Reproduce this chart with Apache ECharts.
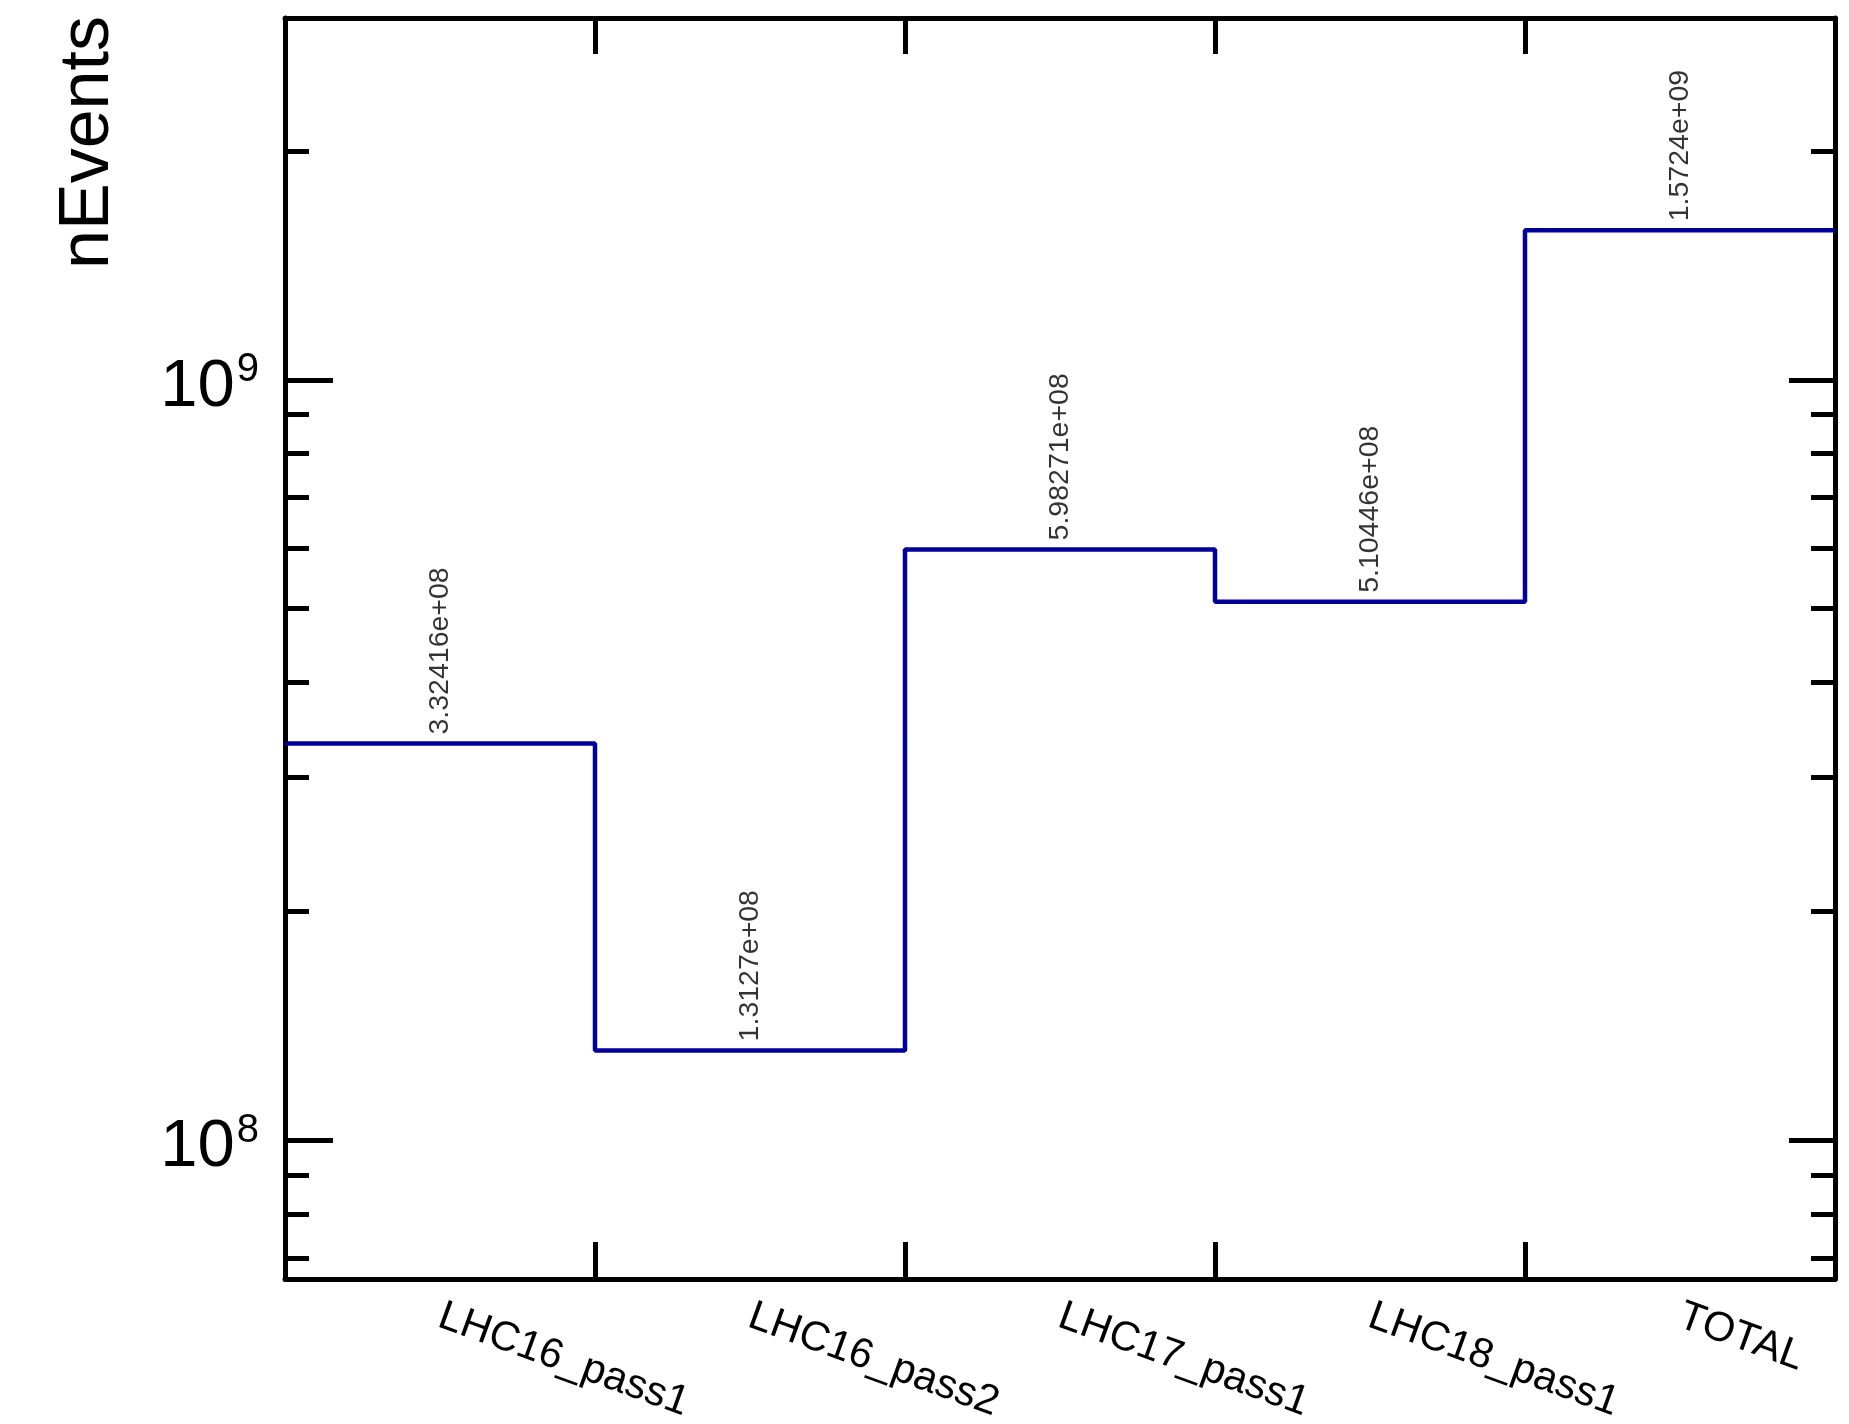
<!DOCTYPE html>
<html>
<head>
<meta charset="utf-8">
<script src="https://cdn.jsdelivr.net/npm/echarts@6/dist/echarts.min.js"></script>
<style>
  html, body { margin: 0; padding: 0; background: #ffffff; }
  #chart { width: 1849px; height: 1424px; }
</style>
</head>
<body>
<div id="chart"></div>
<script>
// Event counts per reconstruction pass
const periods = ['LHC16_pass1', 'LHC16_pass2', 'LHC17_pass1', 'LHC18_pass1', 'TOTAL'];
const nEvents = [3.32416e8, 1.3127e8, 5.98271e8, 5.10446e8, 1.5724e9];

// Log y range and tick positions
const yRange = [6.57e7, 2.99e9];
const majorTicks = [1e8, 1e9];
const minorTicks = [7e7, 8e7, 9e7, 2e8, 3e8, 4e8, 5e8, 6e8, 7e8, 8e8, 9e8, 2e9];

const FONT = '"Liberation Sans", Arial, Helvetica, sans-serif';
const LINE_COLOR = '#000099';

// printf("%g")-style number text
function fmtG(v) {
  const parts = v.toExponential(5).split('e');
  const m = parts[0].replace(/\.?0+$/, '');
  const sign = parts[1][0] === '-' ? '-' : '+';
  let d = parts[1].replace(/^[+-]/, '');
  if (d.length < 2) d = '0' + d;
  return m + 'e' + sign + d;
}

// Histogram outline: bin edges 0..N, last bin closed at the right edge
const stepData = nEvents.map((v, i) => [i, v]).concat([[nEvents.length, nEvents[nEvents.length - 1]]]);

function yAxisDef(pos, ticks, len, withLine, withLabels) {
  return {
    type: 'log',
    logBase: 10,
    position: pos,
    min: yRange[0],
    max: yRange[1],
    axisLine: { show: withLine, lineStyle: { color: '#000', width: 5 } },
    axisTick: {
      show: true, inside: true, length: len, customValues: ticks,
      lineStyle: { color: '#000', width: 5 }
    },
    axisLabel: withLabels ? {
      show: true,
      customValues: majorTicks,
      margin: 26,
      formatter: v => '{b|10}{s|' + Math.round(Math.log10(v)) + '}',
      rich: {
        b: { fontFamily: FONT, fontSize: 67, lineHeight: 67, color: '#000', padding: [15, 0, 0, 0] },
        s: { fontFamily: FONT, fontSize: 40, lineHeight: 40, color: '#000', verticalAlign: 'top', padding: [4, 0, 0, 2] }
      }
    } : { show: false },
    splitLine: { show: false },
    minorTick: { show: false },
    minorSplitLine: { show: false }
  };
}

const chart = echarts.init(document.getElementById('chart'), null, { renderer: 'canvas' });

chart.setOption({
  animation: false,
  backgroundColor: '#ffffff',
  grid: { left: 285, right: 14, top: 18, bottom: 145, containLabel: false, outerBoundsMode: 'none' },
  graphic: [{
    type: 'text',
    x: 89,
    y: 16,
    rotation: Math.PI / 2,
    style: {
      text: 'nEvents',
      fontFamily: FONT,
      fontSize: 70,
      fill: '#000',
      align: 'right',
      verticalAlign: 'middle'
    }
  }],
  xAxis: [
    {
      type: 'category',
      position: 'bottom',
      data: periods,
      boundaryGap: true,
      axisLine: { show: true, lineStyle: { color: '#000', width: 5 } },
      axisTick: { show: true, inside: true, length: 37, interval: 0, lineStyle: { color: '#000', width: 5 } },
      axisLabel: { show: true, interval: 0, rotate: -20, margin: 36, fontFamily: FONT, fontSize: 41.5, color: '#000' },
      splitLine: { show: false }
    },
    {
      type: 'category',
      position: 'top',
      data: periods,
      boundaryGap: true,
      axisLine: { show: true, lineStyle: { color: '#000', width: 5 } },
      axisTick: { show: true, inside: true, length: 36, interval: 0, lineStyle: { color: '#000', width: 5 } },
      axisLabel: { show: false },
      splitLine: { show: false }
    },
    {
      type: 'value',
      min: 0,
      max: periods.length,
      show: false
    }
  ],
  yAxis: [
    yAxisDef('left', majorTicks, 48, true, true),
    yAxisDef('left', minorTicks, 24, false, false),
    yAxisDef('right', majorTicks, 46, true, false),
    yAxisDef('right', minorTicks, 24, false, false)
  ],
  series: [
    {
      type: 'line',
      xAxisIndex: 2,
      yAxisIndex: 0,
      data: stepData,
      step: 'end',
      symbol: 'none',
      lineStyle: { color: LINE_COLOR, width: 4.5 },
      silent: true,
      z: 3
    },
    {
      type: 'scatter',
      xAxisIndex: 0,
      yAxisIndex: 0,
      data: nEvents,
      symbolSize: 0,
      silent: true,
      label: {
        show: true,
        position: 'top',
        distance: 9,
        rotate: 90,
        align: 'left',
        verticalAlign: 'middle',
        fontFamily: FONT,
        fontSize: 28.5,
        color: '#000',
        formatter: p => fmtG(p.value)
      },
      z: 4
    }
  ]
});
</script>
</body>
</html>
